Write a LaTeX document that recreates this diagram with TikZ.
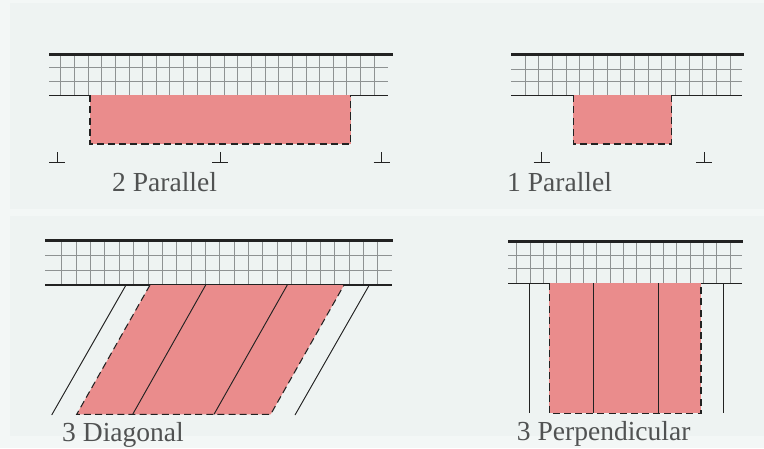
\documentclass[tikz,border=0pt]{standalone}
\usepackage{fontspec}
\setmainfont{Liberation Serif}
\definecolor{Paper}{HTML}{F3F7F6}
\definecolor{Canvas}{HTML}{EEF3F2}
\definecolor{StallPink}{HTML}{EA8C8C}
\definecolor{GridGrey}{HTML}{8E9292}
\definecolor{InkDark}{HTML}{222222}
\definecolor{LabelGrey}{HTML}{505252}

\begin{document}
\begin{tikzpicture}[x=0.03cm,y=-0.03cm,
  slabtop/.style={InkDark,line width=2.4pt},slabbot/.style={InkDark,line width=1.1pt},
  gridline/.style={GridGrey,line width=0.5pt},stall/.style={fill=StallPink,draw=none},
  stalledge/.style={InkDark,line width=0.9pt,dash pattern=on 6pt off 3.5pt},
  aisle/.style={InkDark,line width=0.8pt},tick/.style={InkDark,line width=0.7pt},
  every node/.style={font=\fontsize{23.5}{28}\selectfont,text=LabelGrey,inner sep=0pt,anchor=base west}]
\useasboundingbox (0,0) rectangle (764,448);
\fill[Paper] (0,0) rectangle (764,448); \fill[Canvas] (10,3) rectangle (764,209); \fill[Canvas] (10,216) rectangle (764,436);
% 2 parallel
\foreach \y in {67.7,81.7}{\draw[gridline] (49,\y)--(388,\y);}
\foreach \i in {0,...,23}{\draw[gridline] (60.7+13.62*\i,54.7)--(60.7+13.62*\i,95.3);}
\draw[slabtop] (49,54.7)--(393,54.7); \draw[slabbot] (49,95.3)--(388,95.3);
\fill[stall] (90,95.3) rectangle (350.7,144); \draw[stalledge] (90,95.3)--(90,144)--(350.7,144)--(350.7,95.3);
\foreach \x in {57,220,381.7}{\draw[tick] (\x,152)--(\x,162) (\x-8,162)--(\x+8,162);}
\node (twopar) at (112,191.7){2 Parallel};
% 1 parallel
\foreach \y in {69.3,81.7}{\draw[gridline] (511,\y)--(742,\y);}
\foreach \i in {0,...,15}{\draw[gridline] (525+13.67*\i,54.7)--(525+13.67*\i,95.3);}
\draw[slabtop] (511,54.7)--(744,54.7); \draw[slabbot] (511,95.3)--(742,95.3);
\fill[stall] (573.3,95.3) rectangle (671.7,144); \draw[stalledge] (573.3,95.3)--(573.3,144)--(671.7,144)--(671.7,95.3);
\foreach \x in {541.7,704.3}{\draw[tick] (\x,152)--(\x,162) (\x-8,162)--(\x+8,162);}
\node (onepar) at (507,191.7){1 Parallel};
% 3 diagonal
\foreach \y in {255.7,270}{\draw[gridline] (45,\y)--(392,\y);}
\foreach \i in {0,...,22}{\draw[gridline] (61.7+14.36*\i,240.7)--(61.7+14.36*\i,285);}
\draw[slabtop] (45,240.7)--(392.7,240.7); \draw[slabbot] (45,285)--(392,285);
\fill[stall] (150,285)--(344,285)--(270.7,414.3)--(76.7,414.3)--cycle;
\draw[stalledge] (150,285)--(76.7,414.3)--(270.7,414.3)--(344,285);
\draw[aisle] (205.7,285)--(132.7,414.3) (287.3,285)--(214,414.3);
\draw[aisle] (126,285)--(51.7,415) (369.3,285)--(295,415);
\node (threediag) at (62,441.7){3 Diagonal};
% 3 perpendicular
\foreach \y in {255.7,268.3}{\draw[gridline] (508,\y)--(742,\y);}
\foreach \i in {0,...,16}{\draw[gridline] (516.7+13.33*\i,241.7)--(516.7+13.33*\i,283.3);}
\draw[slabtop] (508,241.7)--(742.7,241.7); \draw[slabbot] (508,283.3)--(742,283.3);
\fill[stall] (549.3,283.3) rectangle (701,413.3); \draw[stalledge] (549.3,283.3)--(549.3,413.3)--(701,413.3)--(701,283.3);
\draw[aisle] (593.7,283.3)--(593.7,413.3) (658.7,283.3)--(658.7,413.3);
\draw[aisle] (529,283.3)--(529,413.3) (723.3,283.3)--(723.3,413.3);
\node (threeperp) at (516.7,440){3 Perpendicular};
\end{tikzpicture}
\end{document}
